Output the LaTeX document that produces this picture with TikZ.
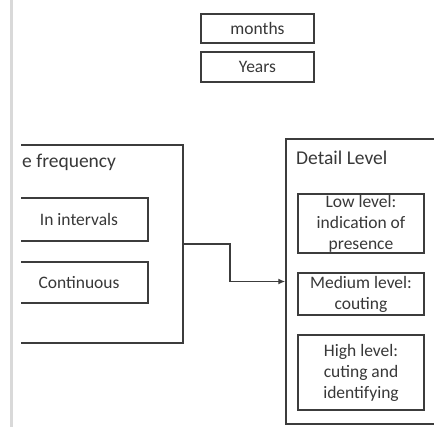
\documentclass[tikz,border=0pt]{standalone}
\usepackage{fontspec}
\setmainfont{Carlito}
\usetikzlibrary{arrows.meta}
\definecolor{linec}{HTML}{3C3C3C}
\definecolor{txtc}{HTML}{383838}
\tikzset{
  box/.style={draw=linec, line width=1.5pt, rectangle, inner sep=0pt, fill=white},
  boxtxt/.style={text=txtc, font=\fontsize{17.5}{21}\selectfont, align=center},
  titletxt/.style={text=txtc, font=\fontsize{19.5}{23}\selectfont, inner sep=0pt},
  conn/.style={draw=linec, line width=1.5pt, -{Latex[length=7pt,width=6pt]}}
}
\begin{document}
\begin{tikzpicture}[x=1pt,y=-1pt]
\useasboundingbox (0,0) rectangle (434,427);
% gray margin line
\draw[line width=3pt, draw=black!15] (11,0) -- (11,427);
% top boxes
\node[box, boxtxt, minimum width=113pt, minimum height=29pt] (months) at (257.5,28.5) {months};
\node[box, boxtxt, minimum width=113pt, minimum height=30pt] (years) at (257.5,67) {Years};
% left group (clipped)
\begin{scope}
\clip (21,0) rectangle (434,427);
\node[box, minimum width=203pt, minimum height=198pt] (freq) at (81.5,244) {};
\node[box, boxtxt, minimum width=138pt, minimum height=43pt] (intervals) at (79,219.5) {In intervals};
\node[box, boxtxt, minimum width=138pt, minimum height=41pt] (continuous) at (79,282.5) {Continuous};
\end{scope}
\node[titletxt, anchor=base west] (freqtitle) at (22,168) {e frequency};
% right group (clipped)
\begin{scope}
\clip (0,0) rectangle (434,427);
\node[box, minimum width=164pt, minimum height=285pt] (detail) at (368,281.5) {};
\end{scope}
\node[titletxt, anchor=base west] (detailtitle) at (296,165) {Detail Level};
\node[box, minimum width=126pt, minimum height=59pt] (low) at (361,223.5) {};
\node[boxtxt] (lowtxt) at (361,224) {Low level:\\indication of\\presence};
\node[box, boxtxt, minimum width=126pt, minimum height=42pt] (medium) at (361,294) {Medium level:\\couting};
\node[box, boxtxt, minimum width=126pt, minimum height=75pt] (high) at (361,372.5) {High level:\\cuting and\\identifying};
% connector
\coordinate (bend) at (230,262);
\draw[conn] (freq.east) -| (bend) |- (detail.west);
\end{tikzpicture}
\end{document}
